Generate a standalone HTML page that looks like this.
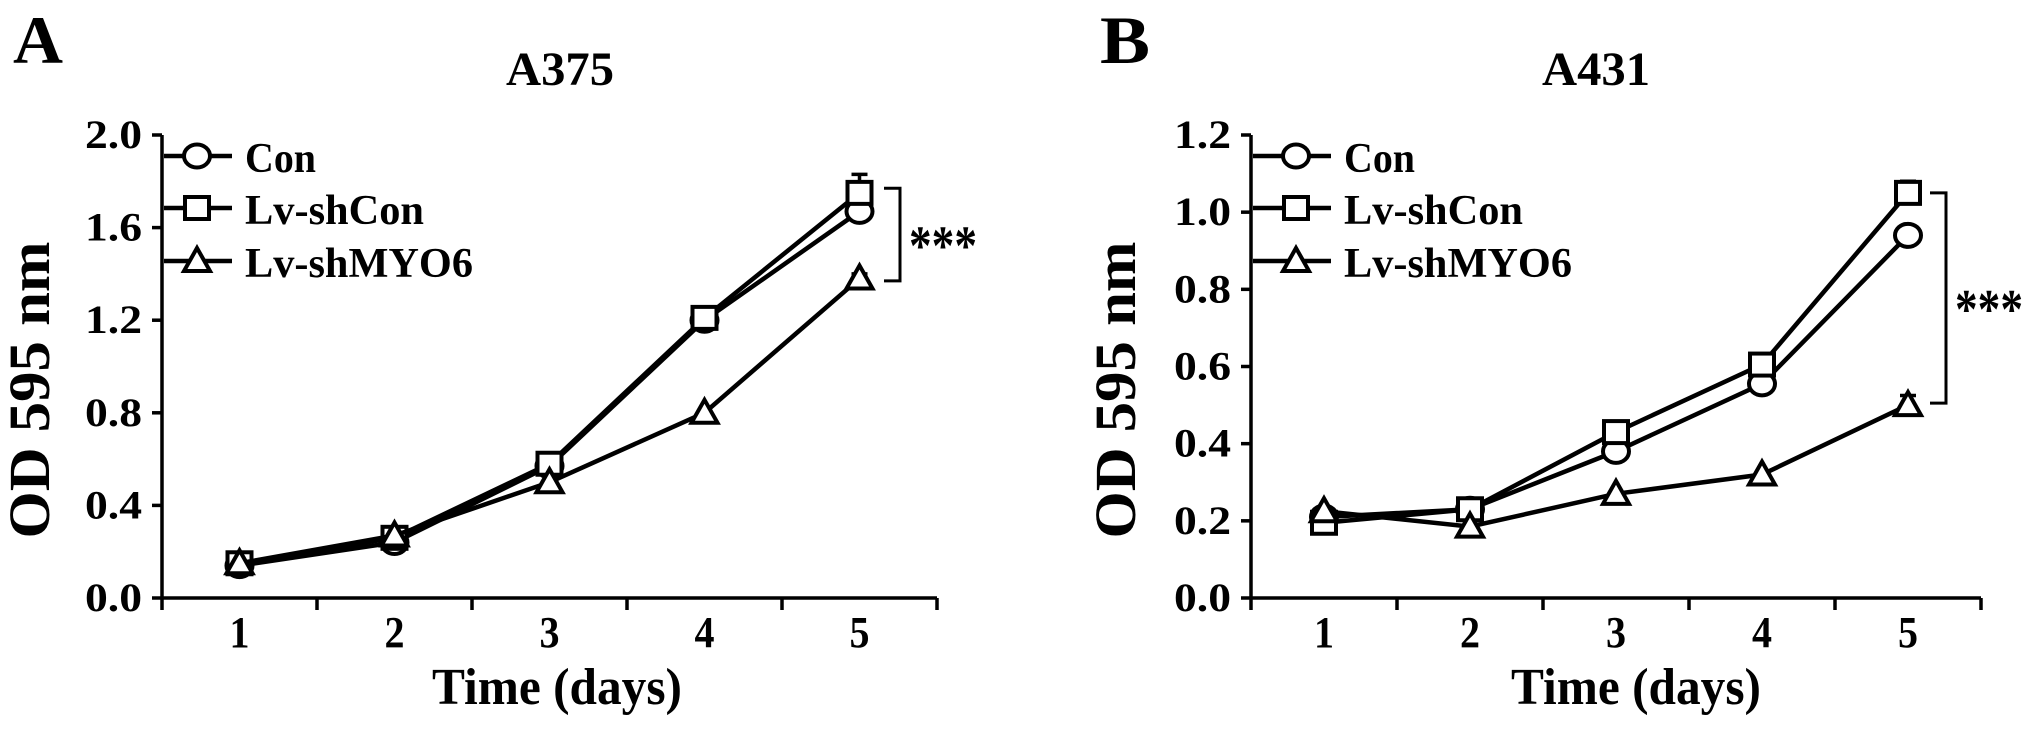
<!DOCTYPE html>
<html><head><meta charset="utf-8"><style>
html,body{margin:0;padding:0;background:#fff;}
svg{display:block;font-family:"Liberation Serif","Times New Roman",serif;font-weight:bold;}
</style></head><body>
<svg id="fig" width="2031" height="729" viewBox="0 0 2031 729" xmlns="http://www.w3.org/2000/svg"></svg>
<script>
const days = [1, 2, 3, 4, 5];
const seriesNames = ["Con", "Lv-shCon", "Lv-shMYO6"];
const a375Con = [0.14, 0.24, 0.57, 1.20, 1.67];
const a375ShCon = [0.15, 0.26, 0.58, 1.21, 1.75];
const a375ShMYO6 = [0.15, 0.27, 0.50, 0.80, 1.38];
const a375Err = [0.07, 0.08, 0.02];
const a375Ticks = ["0.0", "0.4", "0.8", "1.2", "1.6", "2.0"];
const a431Con = [0.21, 0.23, 0.38, 0.555, 0.94];
const a431ShCon = [0.195, 0.23, 0.43, 0.605, 1.05];
const a431ShMYO6 = [0.225, 0.185, 0.27, 0.32, 0.50];
const a431Err = [0.0, 0.03, 0.025];
const a431Ticks = ["0.0", "0.2", "0.4", "0.6", "0.8", "1.0", "1.2"];

const NS = "http://www.w3.org/2000/svg";
const svg = document.getElementById("fig");
function mk(tag, attrs, parent, text) {
  const e = document.createElementNS(NS, tag);
  for (const k in attrs) e.setAttribute(k, attrs[k]);
  if (text !== undefined) e.textContent = text;
  (parent || svg).appendChild(e);
  return e;
}

function marker(g, kind, cx, cy) {
  let m;
  if (kind === 0) m = mk("ellipse", {cx: cx, cy: cy, rx: 13, ry: 11.5, fill: "#fff", stroke: "#000", "stroke-width": 4}, g);
  else if (kind === 1) m = mk("rect", {x: cx - 12, y: cy - 11, width: 24, height: 22, fill: "#fff", stroke: "#000", "stroke-width": 4}, g);
  else m = mk("polygon", {points: `${cx},${cy - 13} ${cx + 13},${cy + 10} ${cx - 13},${cy + 10}`, fill: "#fff", stroke: "#000", "stroke-width": 4}, g);
  
  
  return m;
}

function panel(cfg) {
  const g = mk("g", {});
  
  
  const x0 = cfg.axX, x1 = cfg.axEnd, yTop = 135, yBot = 598;
  const unit = (x1 - x0) / 5;
  const xs = d => x0 + (d - 0.5) * unit;
  const ys = v => yBot - (v / cfg.ymax) * (yBot - yTop);

  const L = mk("text", {x: cfg.letterX, y: 63, "font-size": 68, textLength: 50, lengthAdjust: "spacingAndGlyphs"}, g, cfg.letter);
  
  
  const T = mk("text", {x: cfg.titleX, y: 85, "font-size": 48, "text-anchor": "middle", textLength: 108, lengthAdjust: "spacingAndGlyphs"}, g, cfg.title);
  
  

  const ya = mk("line", {x1: x0, y1: yTop, x2: x0, y2: yBot, stroke: "#000", "stroke-width": 3.5}, g);
  
  
  const xa = mk("line", {x1: x0 - 1.5, y1: yBot, x2: x1, y2: yBot, stroke: "#000", "stroke-width": 3.5}, g);
  
  

  cfg.ticks.forEach((t) => {
    const v = parseFloat(t);
    const y = ys(v);
    const tk = mk("line", {x1: x0 - 10, y1: y, x2: x0, y2: y, stroke: "#000", "stroke-width": 3.5}, g);
    
    
    const lb = mk("text", {x: x0 - 20, y: y + 13, "font-size": 40, "text-anchor": "end", textLength: 57, lengthAdjust: "spacingAndGlyphs"}, g, t);
    
    
  });
  for (let i = 0; i <= 5; i++) {
    const x = x0 + i * unit;
    const tk = mk("line", {x1: x, y1: yBot, x2: x, y2: yBot + 12, stroke: "#000", "stroke-width": 3.5}, g);
    
    
  }
  days.forEach(d => {
    const lb = mk("text", {x: xs(d), y: 647, "font-size": 44, "text-anchor": "middle", textLength: 20, lengthAdjust: "spacingAndGlyphs"}, g, String(d));
    
    
  });
  const xt = mk("text", {x: cfg.xTitleX, y: 704, "font-size": 52, "text-anchor": "middle", textLength: 250, lengthAdjust: "spacingAndGlyphs"}, g, "Time (days)");
  
  
  const yt = mk("text", {x: 0, y: 0, "font-size": 58, "text-anchor": "middle", textLength: 297, lengthAdjust: "spacingAndGlyphs", transform: `translate(${cfg.yTitleX},390) rotate(-90)`}, g, "OD 595 nm");
  
  

  const data = [cfg.con, cfg.shcon, cfg.shmyo];
  data.forEach((vals, k) => {
    const sg = mk("g", {}, g);
    
    
    const pts = vals.map((v, i) => `${xs(days[i])},${ys(v)}`).join(" ");
    const pl = mk("polyline", {points: pts, fill: "none", stroke: "#000", "stroke-width": 4.5}, sg);
    
    
    const e = cfg.err[k];
    if (e > 0) {
      const xl = xs(5), yv = ys(vals[4]), ye = ys(vals[4] + e);
      const eb = mk("path", {d: `M${xl},${yv} V${ye} M${xl - 8},${ye} H${xl + 8}`, stroke: "#000", "stroke-width": 3.5, fill: "none"}, sg);
      
      
    }
    vals.forEach((v, i) => marker(sg, k, xs(days[i]), ys(v)));
  });

  const lg = mk("g", {}, g);
  
  
  const ly = [156, 208, 261], lw = [71, 179, 228];
  seriesNames.forEach((n, k) => {
    const eg = mk("g", {}, lg);
    
    
    mk("line", {x1: x0 + 2, y1: ly[k], x2: cfg.legX + 35, y2: ly[k], stroke: "#000", "stroke-width": 4.5}, eg);
    marker(eg, k, cfg.legX, ly[k]);
    const t = mk("text", {x: cfg.legX + 48, y: ly[k] + 16, "font-size": 42, textLength: lw[k], lengthAdjust: "spacingAndGlyphs"}, eg, n);
    
    
  });

  const br = mk("path", {d: `M${cfg.brX - 16},${ys(cfg.brTop)} H${cfg.brX} V${ys(cfg.brBot)} H${cfg.brX - 16}`, fill: "none", stroke: "#000", "stroke-width": 3}, g);
  
  
  const mid = (ys(cfg.brTop) + ys(cfg.brBot)) / 2;
  const st = mk("text", {x: cfg.brX + 9, y: mid + 30, "font-size": 56, textLength: 68, lengthAdjust: "spacingAndGlyphs"}, g, "***");
  
  
}

panel({name: "panel-a375", letter: "A", letterX: 13, title: "A375", titleX: 560, axX: 162, axEnd: 937, ymax: 2.0,
  ticks: a375Ticks, con: a375Con, shcon: a375ShCon, shmyo: a375ShMYO6, err: a375Err,
  xTitleX: 557, yTitleX: 49, legX: 197, brX: 900, brTop: 1.77, brBot: 1.37});
panel({name: "panel-a431", letter: "B", letterX: 1100, title: "A431", titleX: 1596, axX: 1251, axEnd: 1981, ymax: 1.2,
  ticks: a431Ticks, con: a431Con, shcon: a431ShCon, shmyo: a431ShMYO6, err: a431Err,
  xTitleX: 1636, yTitleX: 1135, legX: 1296, brX: 1946, brTop: 1.05, brBot: 0.505});
</script>
</body></html>
